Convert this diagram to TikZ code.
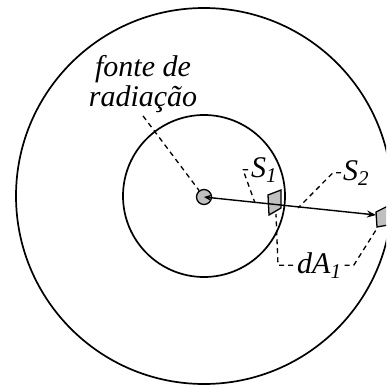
\documentclass[tikz,border=0pt]{standalone}
\usepackage{fontspec}
\setmainfont{Liberation Serif}
\usetikzlibrary{arrows.meta}
\definecolor{patchGray}{RGB}{192,192,192}

\begin{document}
\begin{tikzpicture}[x=1pt,y=-1pt,
    lead/.style={dash pattern=on 5pt off 4pt, line width=1.3pt},
    lbl/.style={inner sep=0pt, font=\fontsize{30}{30}\selectfont\itshape}]
  \clip (0,0) rectangle (386,387);
  % Spheres
  \draw[line width=1.7pt] (204,196) circle (188pt);
  \draw[line width=1.7pt] (204,196) circle (81pt);
  % Surface elements
  \filldraw[fill=patchGray, line width=1.3pt] (268,195) -- (281,190) -- (281,208) -- (269,215) -- cycle;
  \filldraw[fill=patchGray, line width=1.3pt] (376,212) -- (388,206) -- (388,225) -- (377,227) -- cycle;
  \coordinate (p1bot) at (276,214);
  \coordinate (p2bot) at (376,230);
  \coordinate (p2tip) at (376,215);
  \coordinate (s1pt) at (255,203);
  \coordinate (s2pt) at (298,208);
  % Source
  \node[circle, draw, line width=1.3pt, fill=patchGray, minimum size=15pt, inner sep=0pt] (src) at (204,197) {};
  \draw[line width=1.4pt, {Stealth[length=7pt,width=6pt]}-{Stealth[length=9pt,width=7pt]}] (src.center) -- (p2tip);
  % Labels
  \node[lbl, align=center] (fonte) at (143,84) {fonte de\\radiação};
  \node[lbl, anchor=base west] (s1) at (251,177) {S\textsubscript{1}};
  \node[lbl, anchor=base west] (s2) at (343,180) {S\textsubscript{2}};
  \node[lbl, anchor=base west] (da) at (297,273) {dA\textsubscript{1}};
  % Leaders
  \draw[lead] ([yshift=-3pt]fonte.south) -- (src);
  \draw[lead] ([xshift=-3pt]s1.west) -- ++(-5,0) -- (s1pt);
  \draw[lead] ([xshift=-2pt]s2.west) -- ++(-8,0) -- (s2pt);
  \draw[lead] ([xshift=-4pt]da.west) -- ++(-15,0) -- (p1bot);
  \draw[lead] ([xshift=3pt]da.east) -- ++(9,0) -- (p2bot);
\end{tikzpicture}
\end{document}
